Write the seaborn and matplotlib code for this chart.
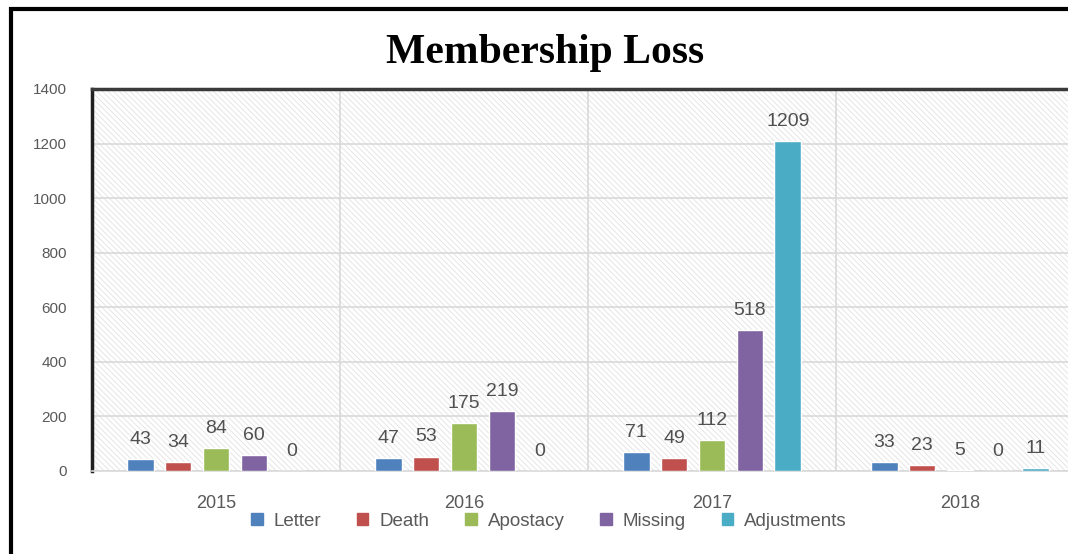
import matplotlib
matplotlib.use("Agg")
import matplotlib.pyplot as plt
from matplotlib.patches import Rectangle
import seaborn as sns
import pandas as pd
import numpy as np

# Données
years = ["2015", "2016", "2017", "2018"]
letter = [43, 47, 71, 33]
death = [34, 53, 49, 23]
apostacy = [84, 175, 112, 5]
missing = [60, 219, 518, 0]
adjustments = [0, 0, 1209, 11]

categories = ["Letter", "Death", "Apostacy", "Missing", "Adjustments"]
colors = ["#4F81BD", "#C0504D", "#9BBB59", "#8064A2", "#4BACC6"]

series = [letter, death, apostacy, missing, adjustments]
rows = []
for cat, vals in zip(categories, series):
    for y, v in zip(years, vals):
        rows.append({"year": y, "reason": cat, "count": v})
df = pd.DataFrame(rows)

sns.set_style("white")
plt.rcParams["font.family"] = ["Liberation Sans", "DejaVu Sans"]
plt.rcParams["hatch.linewidth"] = 0.6

W, H = 1068, 554
fig = plt.figure(figsize=(W / 100, H / 100), dpi=100)
ax = fig.add_axes([92 / W, 83 / H, 992 / W, 382 / H])

# fond hachuré
bg = Rectangle((0, 0), 1, 1, transform=ax.transAxes, facecolor="white",
               edgecolor="#e2e2e2", hatch="\\\\\\\\\\\\", lw=0, zorder=0)
ax.add_patch(bg)

sns.barplot(data=df, x="year", y="count", hue="reason", hue_order=categories,
            palette=colors, saturation=1, width=0.766, gap=0.29, ax=ax, zorder=3,
            legend=False, errorbar=None)

for cont in ax.containers:
    ax.bar_label(cont, fmt="%d", padding=8, fontsize=14, color="#505050")

ax.set_xlim(-0.5, 3.5)
ax.set_ylim(0, 1400)
ax.set_yticks(np.arange(0, 1401, 200))
ax.set_xticks(range(4))
ax.set_xticklabels(years)
ax.set_xticks([0.5, 1.5, 2.5], minor=True)
ax.grid(True, axis="y", which="major", color="#d9d9d9", lw=1.2, zorder=1)
ax.grid(True, axis="x", which="minor", color="#d9d9d9", lw=1.2, zorder=1)
ax.grid(False, axis="x", which="major")
ax.set_axisbelow(True)
ax.tick_params(axis="y", length=0, pad=18, labelsize=11, labelcolor="#595959")
ax.tick_params(axis="x", which="both", length=0, pad=17, labelsize=13, labelcolor="#595959")
ax.set_xlabel("")
ax.set_ylabel("")

ax.spines["left"].set_color("#202020")
ax.spines["left"].set_linewidth(2.5)
ax.spines["top"].set_color("#3a3a3a")
ax.spines["top"].set_linewidth(2.5)
ax.spines["bottom"].set_color("#d9d9d9")
ax.spines["bottom"].set_linewidth(1.2)
ax.spines["right"].set_visible(False)

# légende
handles = [Rectangle((0, 0), 1, 1, color=c) for c in colors]
fig.legend(handles, categories, loc="center", bbox_to_anchor=(549 / W, 1 - 521 / H),
           ncol=5, frameon=False, fontsize=13.5, labelcolor="#595959",
           handlelength=0.6, handleheight=0.6, handletextpad=0.6, columnspacing=1.9)

# titre
fig.text(545 / W, 1 - 53 / H, "Membership Loss", ha="center", va="center",
         fontsize=30, fontweight="bold", family="Liberation Serif", color="black")

# cadre extérieur
fig.add_artist(Rectangle((11 / W, -0.5), 2.0, 1 - 9 / H + 0.5, transform=fig.transFigure,
                         fill=False, lw=3, edgecolor="black", zorder=10))

fig.savefig("out.png", dpi=100)
